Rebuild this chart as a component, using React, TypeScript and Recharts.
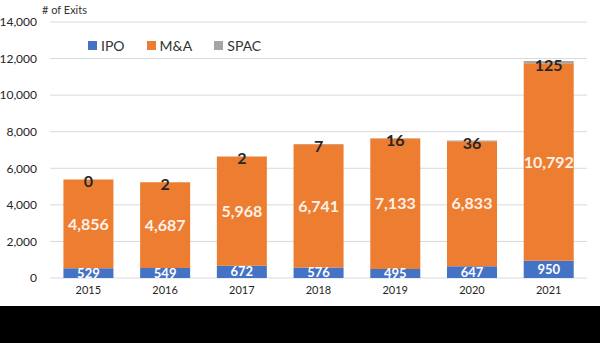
import React from "react";
import {
  BarChart,
  Bar,
  XAxis,
  YAxis,
  CartesianGrid,
  LabelList,
} from "recharts";

// Exits per year, by type
const years = ["2015", "2016", "2017", "2018", "2019", "2020", "2021"];
const ipo = [529, 549, 672, 576, 495, 647, 950];
const mna = [4856, 4687, 5968, 6741, 7133, 6833, 10792];
const spac = [0, 2, 2, 7, 16, 36, 125];
const yTicks = [0, 2000, 4000, 6000, 8000, 10000, 12000, 14000];

const data = years.map((y, i) => ({ year: y, IPO: ipo[i], "M&A": mna[i], SPAC: spac[i] }));

const FONT = "Lato, 'Open Sans', sans-serif";

const legendItems = [
  { name: "IPO", color: "#4472C4" },
  { name: "M&A", color: "#ED7D31" },
  { name: "SPAC", color: "#A5A5A5" },
];

const fmt = (v: any) => Number(v).toLocaleString("en-US");

// SPAC slices are only a pixel or two tall, so the label sits on the top of the M&A bar
const spacLabel = (props: any) => {
  const { x, y, width, value } = props;
  return (
    <text
      x={Number(x) + Number(width) / 2}
      y={Number(y) + 1}
      textAnchor="middle"
      dominantBaseline="central"
      fill="#262626"
      fontSize={16}
      fontWeight={700}
      fontFamily={FONT}
    >
      {fmt(value)}
    </text>
  );
};

export default function App() {
  return (
    <div style={{ position: "absolute", top: 0, left: 0, width: 600, height: 343, background: "#000" }}>
      <div style={{ position: "relative", width: 600, height: 306, background: "#fff" }}>
        <div style={{ position: "absolute", left: 42, top: 3, fontFamily: FONT, fontSize: 11, color: "#333" }}>
          # of Exits
        </div>
        <div
          style={{
            position: "absolute",
            left: 88,
            top: 37,
            display: "flex",
            fontFamily: FONT,
            fontSize: 14,
            color: "#333",
            zIndex: 2,
          }}
        >
          {legendItems.map((it) => (
            <div key={it.name} style={{ display: "flex", alignItems: "center", marginRight: 22 }}>
              <span style={{ width: 9, height: 9, background: it.color, display: "inline-block", marginRight: 4 }} />
              <span>{it.name}</span>
            </div>
          ))}
        </div>
        <BarChart
          width={600}
          height={306}
          data={data}
          margin={{ top: 22, right: 13, bottom: 0, left: 0 }}
          barCategoryGap="17.5%"
        >
          <CartesianGrid vertical={false} stroke="#d9d9d9" />
          <XAxis
            dataKey="year"
            axisLine={false}
            tickLine={false}
            height={28}
            tick={{ fontSize: 11, fill: "#262626", fontFamily: FONT }}
          />
          <YAxis
            domain={[0, 14000]}
            ticks={yTicks}
            width={50}
            axisLine={false}
            tickLine={false}
            tickMargin={7}
            tickFormatter={fmt}
            tick={{ fontSize: 12, fill: "#262626", fontFamily: FONT }}
          />
          <Bar dataKey="IPO" stackId="a" fill="#4472C4" isAnimationActive={false}>
            <LabelList
              dataKey="IPO"
              position="center"
              formatter={fmt}
              style={{ fill: "#fff", fontSize: 13, fontWeight: 700, fontFamily: FONT }}
            />
          </Bar>
          <Bar dataKey="M&A" stackId="a" fill="#ED7D31" isAnimationActive={false}>
            <LabelList
              dataKey="M&A"
              position="center"
              formatter={fmt}
              style={{ fill: "#fdf1e8", fontSize: 16, fontWeight: 700, fontFamily: FONT }}
            />
            <LabelList dataKey="SPAC" content={spacLabel} />
          </Bar>
          <Bar dataKey="SPAC" stackId="a" fill="#A5A5A5" isAnimationActive={false} />
        </BarChart>
      </div>
    </div>
  );
}
